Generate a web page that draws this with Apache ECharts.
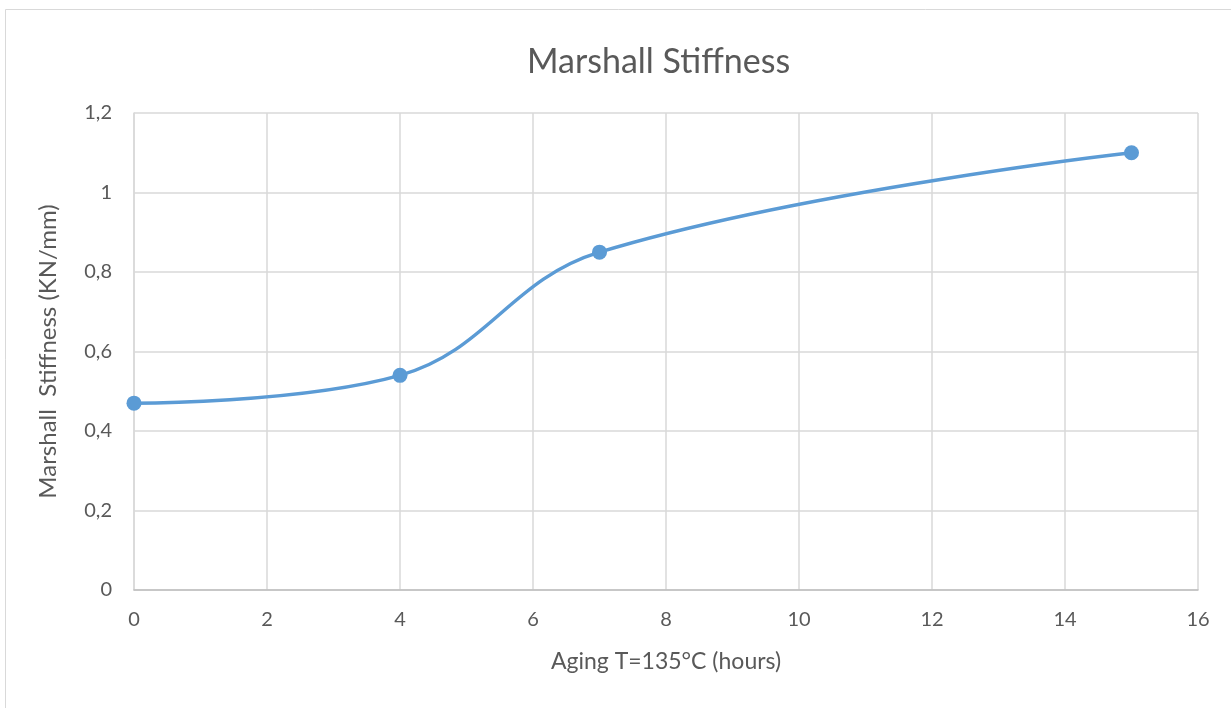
<!DOCTYPE html>
<html><head><meta charset="utf-8">
<script src="https://cdn.jsdelivr.net/npm/echarts@6/dist/echarts.min.js"></script>
<style>html,body{margin:0;padding:0;background:#fff}#c{width:1231px;height:708px}</style>
</head><body><div id="c"></div>
<script>
const hours = [0, 4, 7, 15];
const stiffness = [0.47, 0.54, 0.85, 1.10];
const titleText = 'Marshall Stiffness';
const xName = 'Aging T=135°C (hours)';
const yName = 'Marshall  Stiffness (KN/mm)';
const FONT = 'Lato, "Open Sans", sans-serif';
const chart = echarts.init(document.getElementById('c'), null, {renderer: 'canvas'});
chart.setOption({
  animation: false,
  backgroundColor: '#fff',
  graphic: [{type: 'rect', shape: {x: 5.5, y: 9.5, width: 1240, height: 720}, style: {fill: 'none', stroke: '#d9d9d9', lineWidth: 1}, silent: true}],
  title: {text: titleText, left: 522, top: 40, textStyle: {fontFamily: FONT, fontSize: 34, fontWeight: 'normal', color: '#595959'}},
  grid: {left: 134, right: 33, top: 113, bottom: 118},
  xAxis: {
    type: 'value', min: 0, max: 16, interval: 2,
    name: xName, nameLocation: 'middle', nameGap: 60,
    nameTextStyle: {fontFamily: FONT, fontSize: 23, color: '#595959'},
    axisLine: {show: true, lineStyle: {color: '#bfbfbf', width: 1.5}},
    axisTick: {show: false},
    axisLabel: {fontFamily: FONT, fontSize: 20, color: '#595959', margin: 20},
    splitLine: {show: true, lineStyle: {color: '#d9d9d9', width: 1.5}}
  },
  yAxis: {
    type: 'value', min: 0, max: 1.2, interval: 0.2,
    name: yName, nameLocation: 'middle', nameGap: 74,
    nameTextStyle: {fontFamily: FONT, fontSize: 24, color: '#595959'},
    axisLine: {show: true, lineStyle: {color: '#d9d9d9', width: 1.5}},
    axisTick: {show: false},
    axisLabel: {fontFamily: FONT, fontSize: 20, color: '#595959', margin: 22,
      formatter: v => String(Math.round(v * 10) / 10).replace('.', ',')},
    splitLine: {show: true, lineStyle: {color: '#d9d9d9', width: 1.5}}
  },
  series: [{
    type: 'line',
    data: hours.map((h, i) => [h, stiffness[i]]),
    smooth: 0.4,
    symbol: 'circle', symbolSize: 15,
    lineStyle: {color: '#5b9bd5', width: 3.5},
    itemStyle: {color: '#5b9bd5'}
  }]
});
</script></body></html>
